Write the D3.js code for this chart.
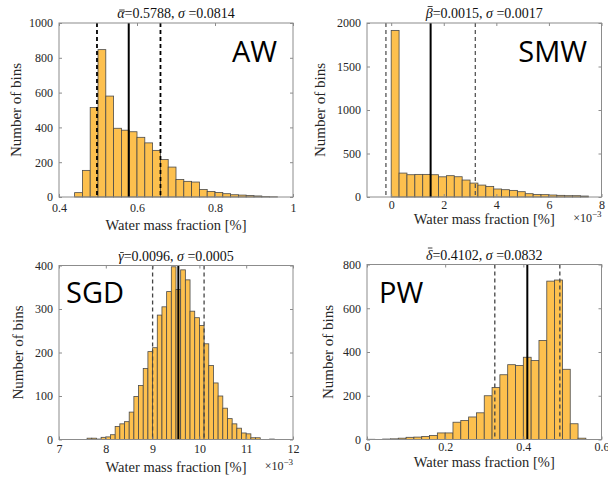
<!DOCTYPE html>
<html>
<head>
<meta charset="utf-8">
<script src="https://cdn.jsdelivr.net/npm/d3@7"></script>
<style>
  body { margin: 0; background: #fff; }
  svg { display: block; }
</style>
</head>
<body>
<svg id="fig" width="608" height="478"></svg>
<script>
// ---- data ----
// AW: bins of 0.02 starting at 0.44
var awCounts = [25, 153, 515, 847, 580, 395, 384, 375, 343, 311, 268, 215, 172, 101, 90, 86, 43, 32, 26, 19, 13, 11, 8, 6, 2, 1];
var awBinStart = 0.44, awBinWidth = 0.02;
var awStats = [0.4974, 0.5788, 0.6602];   // mean - sd, mean, mean + sd

// SMW: bins of 0.3e-3 starting at 0 (axis in units of 1e-3)
var smwCounts = [1915, 275, 256, 260, 260, 256, 232, 245, 233, 195, 160, 137, 122, 92, 84, 76, 61, 38, 30, 27, 23, 19, 15, 15, 11];
var smwBinStart = 0, smwBinWidth = 0.3;
var smwStats = [-0.2, 1.5, 3.2];

// SGD: bins of 0.1e-3 starting at 7.6e-3
var sgdCounts = [3, 3, 1, 5, 6, 11, 30, 36, 41, 63, 99, 124, 163, 202, 211, 286, 305, 340, 397, 345,
                 390, 367, 295, 280, 262, 220, 170, 130, 100, 72, 48, 36, 26, 15, 13, 4, 4, 0, 0, 1];
var sgdBinStart = 7.6, sgdBinWidth = 0.1;
var sgdStats = [9.0, 9.55, 10.1];

// PW: bins of 0.02 starting at 0
var pwCounts = [1, 0, 2, 3, 6, 10, 11, 14, 18, 30, 30, 79, 87, 103, 122, 200, 238, 296, 342, 338, 376, 361, 453, 724, 729, 321, 72, 6];
var pwBinStart = 0, pwBinWidth = 0.02;
var pwStats = [0.327, 0.4102, 0.4934];

var awXTicks = [0.4, 0.6, 0.8, 1], awYTicks = [0, 200, 400, 600, 800, 1000];
var smwXTicks = [0, 2, 4, 6, 8], smwYTicks = [0, 500, 1000, 1500, 2000];
var sgdXTicks = [7, 8, 9, 10, 11, 12], sgdYTicks = [0, 100, 200, 300, 400];
var pwXTicks = [0, 0.2, 0.4, 0.6], pwYTicks = [0, 200, 400, 600, 800];

var svg = d3.select("#fig");
var serif = "'Liberation Serif', serif";
var barFill = "#FDC04E";
var boxColor = "#8c8c8c";

function histPanel(p) {
  var g = svg.append("g");
  var x = d3.scaleLinear().domain(p.xDomain).range([p.left, p.right]);
  var y = d3.scaleLinear().domain(p.yDomain).range([p.bottom, p.top]);

  g.selectAll("rect.bar")
    .data(p.counts)
    .enter().append("rect")
      .attr("class", "bar")
      .attr("x", function(d, i) { return x(p.binStart + i * p.binWidth); })
      .attr("width", function(d, i) { return x(p.binStart + (i + 1) * p.binWidth) - x(p.binStart + i * p.binWidth); })
      .attr("y", function(d) { return y(d); })
      .attr("height", function(d) { return y(0) - y(d); })
      .style("fill", barFill)
      .style("stroke", "#4a4a4a")
      .style("stroke-width", 0.8);

  // mean and +/- sd lines
  g.selectAll("line.stat")
    .data(p.stats)
    .enter().append("line")
      .attr("x1", function(d) { return x(d); })
      .attr("x2", function(d) { return x(d); })
      .attr("y1", p.top)
      .attr("y2", p.bottom)
      .style("stroke", function(d, i) { return i === 1 ? "#000" : p.dashColor; })
      .style("stroke-width", function(d, i) { return i === 1 ? 2 : p.dashWidth; })
      .style("stroke-dasharray", function(d, i) { return i === 1 ? null : "4,3"; });

  // axes, ticks pointing inwards like matlab
  var xAxis = d3.axisBottom(x).tickValues(p.xTicks).tickSizeInner(-3).tickSizeOuter(0)
    .tickPadding(p.xPad).tickFormat(d3.format("~g"));
  var yAxis = d3.axisLeft(y).tickValues(p.yTicks).tickSizeInner(-3).tickSizeOuter(0)
    .tickPadding(6).tickFormat(d3.format("d"));

  g.append("g").attr("transform", "translate(0," + p.bottom + ")").call(xAxis);
  g.append("g").attr("transform", "translate(" + p.left + ",0)").call(yAxis);
  g.append("g").attr("transform", "translate(0," + p.top + ")")
    .call(d3.axisTop(x).tickValues(p.xTicks).tickSizeInner(-3).tickSizeOuter(0).tickFormat(""));
  g.append("g").attr("transform", "translate(" + p.right + ",0)")
    .call(d3.axisRight(y).tickValues(p.yTicks).tickSizeInner(-3).tickSizeOuter(0).tickFormat(""));

  g.selectAll(".domain").remove();
  g.selectAll(".tick line").style("stroke", boxColor);
  g.selectAll(".tick text")
    .style("font-family", serif)
    .style("font-size", "12px")
    .style("fill", "#262626");

  g.append("rect")
    .attr("x", p.left).attr("y", p.top)
    .attr("width", p.right - p.left).attr("height", p.bottom - p.top)
    .style("fill", "none").style("stroke", boxColor).style("stroke-width", 1);

  // title, greek symbol with a bar drawn over its glyph
  var t = g.append("text")
    .attr("x", (p.left + p.right) / 2)
    .attr("y", p.top - 5)
    .attr("text-anchor", "middle")
    .style("font-family", serif)
    .style("font-size", "14px")
    .style("fill", "#111");
  t.append("tspan").style("font-style", "italic").text(p.symbol);
  t.append("tspan").text("=" + p.mean + ", ");
  t.append("tspan").style("font-style", "italic").text("\u03c3");
  t.append("tspan").text(" =" + p.sd);

  // short letters (alpha, gamma) get the bar lower than tall ones
  var ext = t.node().getExtentOfChar(0);
  var shortLetter = p.symbol === "\u03b1" || p.symbol === "\u03b3";
  var barY = shortLetter ? ext.y + 4 : ext.y + 0.5;
  g.append("line")
    .attr("x1", ext.x + 2).attr("x2", ext.x + ext.width)
    .attr("y1", barY).attr("y2", barY)
    .style("stroke", "#111").style("stroke-width", 0.8);

  // axis labels
  g.append("text")
    .attr("x", (p.left + p.right) / 2)
    .attr("y", p.xLabelY)
    .attr("text-anchor", "middle")
    .style("font-family", serif)
    .style("font-size", "14.5px")
    .style("fill", "#262626")
    .text("Water mass fraction [%]");

  g.append("text")
    .attr("transform", "translate(" + p.yLabelX + "," + (p.top + p.bottom) / 2 + ") rotate(-90)")
    .attr("text-anchor", "middle")
    .attr("dy", "0.35em")
    .style("font-family", serif)
    .style("font-size", "15px")
    .style("fill", "#262626")
    .text("Number of bins");

  if (p.exponent) {
    var e = g.append("text")
      .attr("x", p.right)
      .attr("y", p.xLabelY - 2)
      .attr("text-anchor", "end")
      .style("font-family", serif)
      .style("font-size", "12px")
      .style("fill", "#262626");
    e.append("tspan").text("\u00d710");
    e.append("tspan").attr("dy", "-5").style("font-size", "9px").text("\u22123");
  }

  // big panel name
  g.append("text")
    .attr("x", p.nameX)
    .attr("y", p.nameY)
    .attr("text-anchor", p.nameAnchor)
    .style("font-family", "'Open Sans', 'Noto Sans', sans-serif")
    .style("font-size", "29px")
    .style("fill", "#000")
    .text(p.name);
}

histPanel({
  name: "AW", nameX: 277, nameY: 62, nameAnchor: "end",
  symbol: "\u03b1", mean: "0.5788", sd: "0.0814",
  counts: awCounts, binStart: awBinStart, binWidth: awBinWidth, stats: awStats,
  xDomain: [0.4, 1], yDomain: [0, 1000], xTicks: awXTicks, yTicks: awYTicks,
  left: 59, right: 293, top: 23, bottom: 197, xPad: 6,
  xLabelY: 230, yLabelX: 16, dashColor: "#000", dashWidth: 1.8
});

histPanel({
  name: "SMW", nameX: 587, nameY: 62, nameAnchor: "end",
  symbol: "\u03b2", mean: "0.0015", sd: "0.0017",
  counts: smwCounts, binStart: smwBinStart, binWidth: smwBinWidth, stats: smwStats,
  xDomain: [-0.92, 8], yDomain: [0, 2000], xTicks: smwXTicks, yTicks: smwYTicks,
  left: 367, right: 601.5, top: 23, bottom: 197, xPad: 3,
  xLabelY: 224, yLabelX: 320, dashColor: "#555", dashWidth: 1.3, exponent: true
});

histPanel({
  name: "SGD", nameX: 66, nameY: 303, nameAnchor: "start",
  symbol: "\u03b3", mean: "0.0096", sd: "0.0005",
  counts: sgdCounts, binStart: sgdBinStart, binWidth: sgdBinWidth, stats: sgdStats,
  xDomain: [7, 12], yDomain: [0, 400], xTicks: sgdXTicks, yTicks: sgdYTicks,
  left: 59, right: 293, top: 265.5, bottom: 439.5, xPad: 5,
  xLabelY: 472, yLabelX: 18, dashColor: "#444", dashWidth: 1.3, exponent: true
});

histPanel({
  name: "PW", nameX: 379, nameY: 303, nameAnchor: "start",
  symbol: "\u03b4", mean: "0.4102", sd: "0.0832",
  counts: pwCounts, binStart: pwBinStart, binWidth: pwBinWidth, stats: pwStats,
  xDomain: [0, 0.6], yDomain: [0, 800], xTicks: pwXTicks, yTicks: pwYTicks,
  left: 367, right: 601.5, top: 264.5, bottom: 439.5, xPad: 3,
  xLabelY: 467, yLabelX: 328, dashColor: "#444", dashWidth: 1.3
});
</script>
</body>
</html>
